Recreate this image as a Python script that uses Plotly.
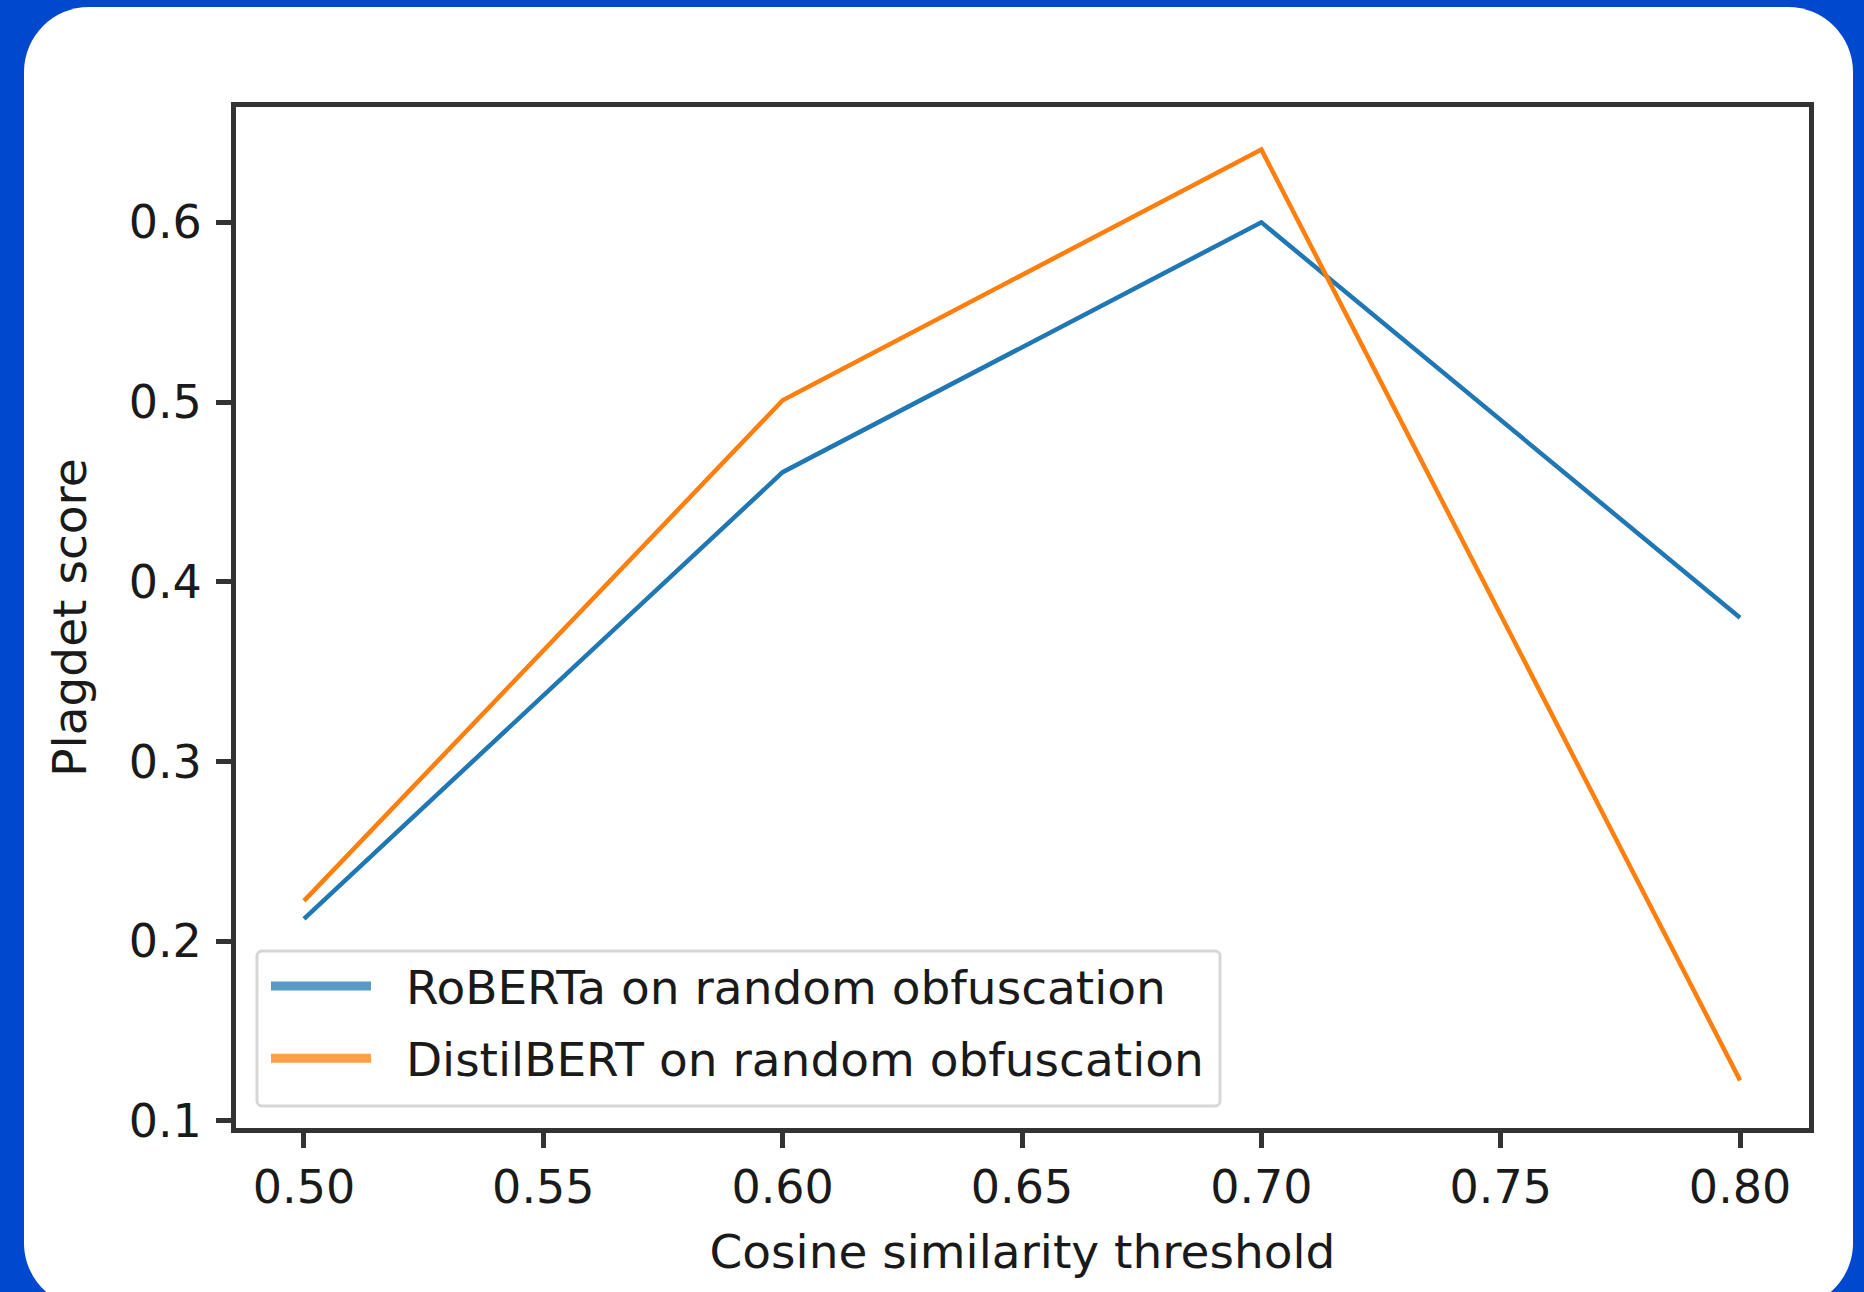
import plotly.graph_objects as go

thresholds = [0.50, 0.60, 0.70, 0.80]
roberta = [0.2125, 0.461, 0.600, 0.380]
distilbert = [0.2225, 0.501, 0.6405, 0.1226]
series_names = ["RoBERTa on random obfuscation", "DistilBERT on random obfuscation"]
colors = ["#1f77b4", "#ff7f0e"]
x_ticks = [0.50, 0.55, 0.60, 0.65, 0.70, 0.75, 0.80]
x_tick_labels = ["0.50", "0.55", "0.60", "0.65", "0.70", "0.75", "0.80"]
y_ticks = [0.1, 0.2, 0.3, 0.4, 0.5, 0.6]
y_tick_labels = ["0.1", "0.2", "0.3", "0.4", "0.5", "0.6"]

W, H = 1864, 1292
ML, MR, MT, MB = 236, 55, 107, 164
PW, PH = W - ML - MR, H - MT - MB

def px(x):
    return (x - ML) / PW

def py(y):
    return (H - MB - y) / PH

def P(x, y):
    return f"{px(x):.6f},{py(y):.6f}"

def rounded_rect(X0, Y0, X1, Y1, R):
    k = 0.5523 * R
    return (
        f"M{P(X0+R, Y0)} L{P(X1-R, Y0)} "
        f"C{P(X1-R+k, Y0)} {P(X1, Y0+R-k)} {P(X1, Y0+R)} "
        f"L{P(X1, Y1-R)} "
        f"C{P(X1, Y1-R+k)} {P(X1-R+k, Y1)} {P(X1-R, Y1)} "
        f"L{P(X0+R, Y1)} "
        f"C{P(X0+R-k, Y1)} {P(X0, Y1-R+k)} {P(X0, Y1-R)} "
        f"L{P(X0, Y0+R)} "
        f"C{P(X0, Y0+R-k)} {P(X0+R-k, Y0)} {P(X0+R, Y0)} Z"
    )

FONT = "DejaVu Sans"
FS = 46
FS_BIG = 47

fig = go.Figure()
for name, vals, c in zip(series_names, [roberta, distilbert], colors):
    fig.add_trace(go.Scatter(x=thresholds, y=vals, mode="lines", name=name,
                             line=dict(color=c, width=4.5), showlegend=False,
                             hoverinfo="skip"))
for i, (name, c) in enumerate(zip(series_names, colors)):
    fig.add_trace(go.Scatter(x=[None], y=[None], mode="lines",
                             name="\u00a0\u00a0" + name, legendgroup=f"g{i}",
                             line=dict(color=c, width=9), opacity=0.75,
                             showlegend=True))

fig.update_layout(
    width=W, height=H,
    margin=dict(l=ML, r=MR, t=MT, b=MB, autoexpand=False),
    paper_bgcolor="#0048CD",
    plot_bgcolor="white",
    font=dict(family=FONT, size=FS, color="#1a1a1a"),
    shapes=[
        dict(type="path", xref="paper", yref="paper",
             path=rounded_rect(24, 7, 1853, 1308, 65),
             fillcolor="white", line=dict(width=0), layer="below"),
        dict(type="path", xref="paper", yref="paper",
             path=rounded_rect(257, 951, 1220, 1106, 5),
             fillcolor="rgba(255,255,255,0.8)",
             line=dict(color="#d6d6d6", width=3), layer="above"),
    ],
    legend=dict(x=px(266), y=py(949), xanchor="left", yanchor="top",
                bgcolor="rgba(0,0,0,0)", borderwidth=0,
                font=dict(family=FONT, size=FS_BIG, color="#1a1a1a"),
                itemwidth=100, tracegroupgap=8),
    showlegend=True,
)
fig.update_xaxes(range=[0.4858, 0.8144], tickvals=x_ticks, ticktext=x_tick_labels,
                 showgrid=False, zeroline=False, showline=True, mirror=True,
                 linecolor="#333333", linewidth=5, ticks="outside", ticklen=15,
                 tickwidth=5, tickcolor="#333333",
                 title=dict(text="Cosine similarity threshold", standoff=23,
                            font=dict(family=FONT, size=FS_BIG)))
fig.update_yaxes(range=[0.0961, 0.6642], tickvals=y_ticks, ticktext=y_tick_labels,
                 showgrid=False, zeroline=False, showline=True, mirror=True,
                 linecolor="#333333", linewidth=5, ticks="outside", ticklen=15,
                 tickwidth=5, tickcolor="#333333", ticklabelstandoff=5,
                 title=dict(text="Plagdet score", standoff=29,
                            font=dict(family=FONT, size=FS_BIG)))

fig.write_html("out.html")
